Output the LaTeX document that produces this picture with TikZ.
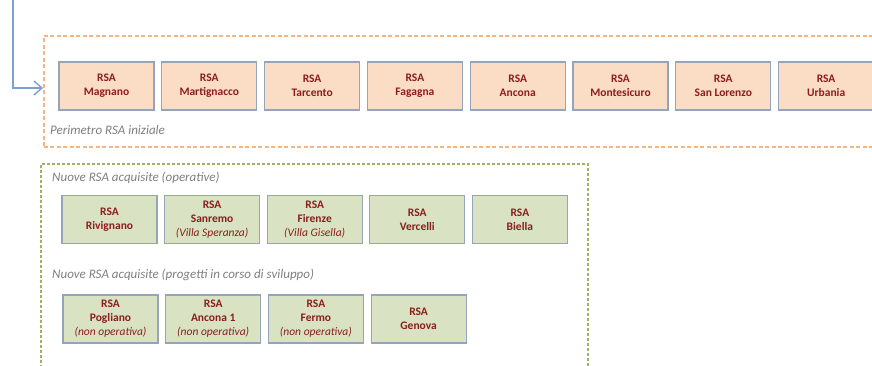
\documentclass[tikz,border=0pt]{standalone}
\usepackage{fontspec}
\setmainfont{Carlito}
\usetikzlibrary{arrows.meta}
\definecolor{peach}{HTML}{FBDCC5}
\definecolor{sage}{HTML}{D9E3C3}
\definecolor{boxedge}{HTML}{95A4B8}
\definecolor{darkred}{HTML}{8C1D1D}
\definecolor{orangedash}{HTML}{F6B683}
\definecolor{greendash}{HTML}{9DB363}
\definecolor{labelgray}{HTML}{7F7F7F}
\definecolor{arrowblue}{HTML}{7D9FD3}
\tikzset{
  x=1pt, y=-1pt,
  rsabox/.style={draw=boxedge, line width=1.2pt, minimum width=95pt, minimum height=48pt,
    inner sep=0pt, align=center, text=darkred,
    font=\fontsize{11.5}{14}\selectfont\bfseries},
  obox/.style={rsabox, fill=peach},
  gbox/.style={rsabox, fill=sage},
  oframe/.style={draw=orangedash, line width=1.5pt, dash pattern=on 4pt off 2.5pt, inner sep=0pt},
  gframe/.style={draw=greendash, line width=1.5pt, dash pattern=on 3pt off 2pt, inner sep=0pt},
  grouplabel/.style={anchor=west, inner sep=0pt, text=labelgray,
    font=\fontsize{13}{15}\selectfont\itshape}
}
\newcommand{\nota}[1]{{\mdseries\itshape #1}}
\begin{document}
\begin{tikzpicture}
\useasboundingbox (0,0) rectangle (872,365);
\fill[white] (0,0) rectangle (872,365);

% frames
\node[oframe, minimum width=850pt, minimum height=111pt, anchor=north west] (perim) at (43,35) {};
\node[gframe, minimum width=547pt, minimum height=215pt, anchor=north west] (nuove) at (40,163) {};

% labels
\node[grouplabel] (lperim) at (50,130) {Perimetro RSA iniziale};
\node[grouplabel] (lop) at (52,178) {Nuove RSA acquisite (operative)};
\node[grouplabel] (lsv) at (52,275) {Nuove RSA acquisite (progetti in corso di sviluppo)};

% top row
\node[obox] (magnano) at (106.5,86) {RSA\\Magnano};
\node[obox] (martignacco) at (209.3,86) {RSA\\Martignacco};
\node[obox] (tarcento) at (312.1,86) {RSA\\Tarcento};
\node[obox] (fagagna) at (414.9,86) {RSA\\Fagagna};
\node[obox] (ancona) at (517.7,86) {RSA\\Ancona};
\node[obox] (montesicuro) at (620.5,86) {RSA\\Montesicuro};
\node[obox] (sanlorenzo) at (723.3,86) {RSA\\San Lorenzo};
\node[obox] (urbania) at (826.1,86) {RSA\\Urbania};

% green row 1
\node[gbox] (rivignano) at (109.5,219.5) {RSA\\Rivignano};
\node[gbox] (sanremo) at (212.1,219.5) {RSA\\Sanremo\\\nota{(Villa Speranza)}};
\node[gbox] (firenze) at (314.7,219.5) {RSA\\Firenze\\\nota{(Villa Gisella)}};
\node[gbox] (vercelli) at (417.3,219.5) {RSA\\Vercelli};
\node[gbox] (biella) at (519.9,219.5) {RSA\\Biella};

% green row 2
\node[gbox] (pogliano) at (110.5,319) {RSA\\Pogliano\\\nota{(non operativa)}};
\node[gbox] (ancona1) at (213.2,319) {RSA\\Ancona 1\\\nota{(non operativa)}};
\node[gbox] (fermo) at (315.9,319) {RSA\\Fermo\\\nota{(non operativa)}};
\node[gbox] (genova) at (418.6,319) {RSA\\Genova};

% arrow
\coordinate (astart) at (13,0);
\coordinate (aend) at (43,88);
\draw[arrowblue, line width=1.4pt, -{Straight Barb[length=8pt,width=14pt]}] (astart) |- (aend);
\end{tikzpicture}
\end{document}
